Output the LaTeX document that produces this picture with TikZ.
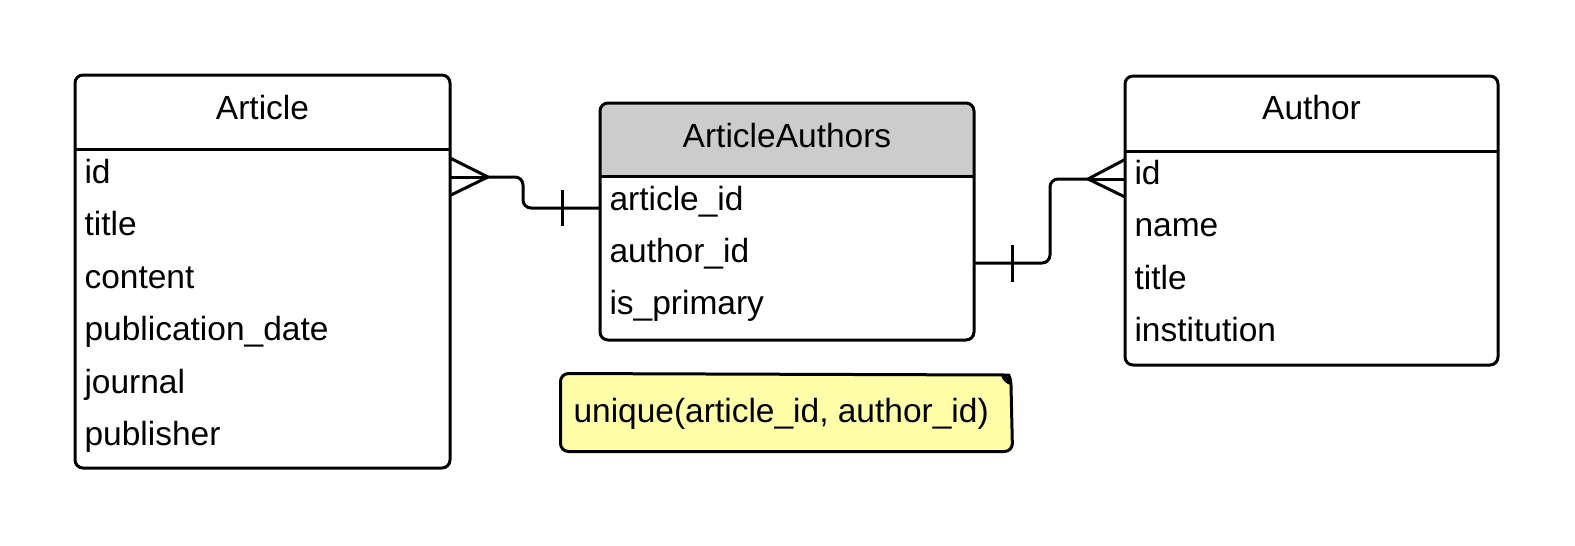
\documentclass[tikz,border=0pt]{standalone}
\usepackage{fontspec}
\setmainfont{Liberation Sans}
\usetikzlibrary{backgrounds}
\definecolor{hdrgray}{HTML}{CCCCCC}
\definecolor{noteyellow}{RGB}{255,255,170}
\begin{document}
\begin{tikzpicture}[x=1pt,y=-1pt, line width=3pt, line join=round,
  box/.style={draw, rounded corners=8pt, inner sep=0pt, outer sep=0pt},
  fld/.style={anchor=base west, inner sep=0pt, font=\fontsize{33.5}{40}\selectfont},
  ttl/.style={anchor=base, inner sep=0pt, font=\fontsize{33.5}{40}\selectfont},
  conn/.style={draw, rounded corners=8pt},
  tick/.style={draw}]
\useasboundingbox (0,0) rectangle (1575,546);

% ---------- Article ----------
\node[box, minimum width=375pt, minimum height=393pt] (article) at (262.5,271.5) {};
\draw (article.west |- 0,149) -- (article.east |- 0,149);
\node[ttl] (articleT) at (262.5,119) {Article};
\node[fld] (art1) at (83,183.5) {id};
\node[fld] (art2) at (83,235.9) {title};
\node[fld] (art3) at (83,288.3) {content};
\node[fld] (art4) at (83,340.7) {publication\_date};
\node[fld] (art5) at (83,393.1) {journal};
\node[fld] (art6) at (83,445.5) {publisher};

% ---------- ArticleAuthors ----------
\node[box, minimum width=374pt, minimum height=237pt] (aa) at (787,221.5) {};
\begin{scope}[on background layer]
  \fill[hdrgray, rounded corners=8pt] (aa.west |- 0,176) -- (aa.north west) -- (aa.north east) [sharp corners] -- (aa.east |- 0,176) -- cycle;
\end{scope}
\draw (aa.west |- 0,176) -- (aa.east |- 0,176);
\node[ttl] (aaT) at (787,147) {ArticleAuthors};
\node[fld] (aa1) at (608,210.5) {article\_id};
\node[fld] (aa2) at (608,262.5) {author\_id};
\node[fld] (aa3) at (608,314.5) {is\_primary};

% ---------- Author ----------
\node[box, minimum width=373pt, minimum height=289pt] (author) at (1311.5,220.5) {};
\draw (author.west |- 0,151) -- (author.east |- 0,151);
\node[ttl] (authorT) at (1311.5,119) {Author};
\node[fld] (au1) at (1133,184) {id};
\node[fld] (au2) at (1133,236.6) {name};
\node[fld] (au3) at (1133,289.2) {title};
\node[fld] (au4) at (1133,341.8) {institution};

% ---------- Note ----------
\node[inner sep=0pt, minimum width=449pt, minimum height=75pt] (note) at (786.5,412.5) {};
\draw[fill=noteyellow, rounded corners=8pt] (note.south west) -- (note.north west) -- (1001,375) [sharp corners] .. controls (1008,375) and (1011,378) .. (1011,385) [rounded corners=8pt] -- (note.south east) -- cycle;
\fill (1001,375) .. controls (1008,375) and (1011,378) .. (1011,385) .. controls (1006,384) and (1002,380) .. (1001,375) -- cycle;
\node[fld] (noteT) at (572,422) {unique(article\_id, author\_id)};

% ---------- Connector Article -- ArticleAuthors ----------
\coordinate (c1) at (488,177);
\draw (article.east |- 0,158) -- (c1);
\draw (article.east |- 0,177) -- (c1);
\draw (article.east |- 0,195.5) -- (c1);
\draw[conn] (c1) -- (523,177) -- (523,208) -- (aa.west |- 0,208);
\draw[tick] (562,190) -- (562,226);

% ---------- Connector ArticleAuthors -- Author ----------
\coordinate (c2) at (1088,179);
\draw[conn] (aa.east |- 0,263) -- (1050,263) -- (1050,179) -- (c2);
\draw (c2) -- (author.west |- 0,159.5);
\draw (c2) -- (author.west |- 0,179);
\draw (c2) -- (author.west |- 0,197);
\draw[tick] (1012,245) -- (1012,282);
\end{tikzpicture}
\end{document}
